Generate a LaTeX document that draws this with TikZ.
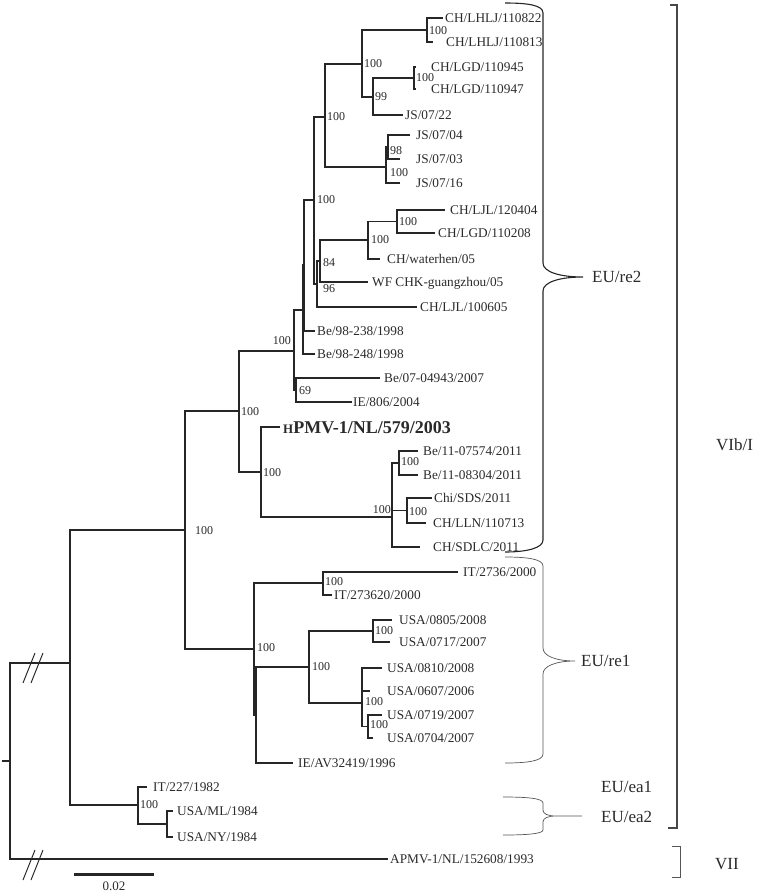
\documentclass[tikz,border=0pt]{standalone}
\usepackage{fontspec}
\setmainfont{Liberation Serif}
\definecolor{ln}{HTML}{262626}
\definecolor{tx}{HTML}{2A2A2A}
\definecolor{gl}{HTML}{555555}
\tikzset{
  br/.style={draw=ln, line width=1.2pt},
  lf/.style={anchor=west, inner sep=0pt, text height=8.8pt, text depth=0pt, font=\fontsize{13.3}{13.3}\selectfont, text=tx},
  bsr/.style={anchor=west, inner sep=0pt, text height=7.9pt, text depth=0pt, font=\fontsize{12}{12}\selectfont, text=tx},
  bsl/.style={bsr, anchor=east},
  cl/.style={anchor=west, inner sep=0pt, text height=11.3pt, text depth=0pt, font=\fontsize{17}{17}\selectfont, text=tx},
  bracemain/.style={draw=ln, line width=1.1pt},
  bracethin/.style={draw=gl, line width=0.7pt},
}
\newcommand\leaf[5]{\coordinate (#1) at (#2,#3); \node[lf] (#1-l) at (#4,#3) {#5};}
\begin{document}
\begin{tikzpicture}[x=1pt,y=-1pt]
\useasboundingbox (0,0) rectangle (758,894);

% leaves
\leaf{t1}{443}{18}{445}{CH/LHLJ/110822}
\leaf{t2}{433}{42}{446}{CH/LHLJ/110813}
\leaf{t3}{416}{67}{431}{CH/LGD/110945}
\leaf{t4}{416}{89}{431}{CH/LGD/110947}
\leaf{t5}{403}{115}{405}{JS/07/22}
\leaf{t6}{410}{135}{416}{JS/07/04}
\leaf{t7}{400}{159}{416}{JS/07/03}
\leaf{t8}{400}{183}{416}{JS/07/16}
\leaf{t9}{445}{210}{450}{CH/LJL/120404}
\leaf{t10}{435}{233}{438}{CH/LGD/110208}
\leaf{t11}{380}{259}{387}{CH/waterhen/05}
\leaf{t12}{368}{282}{372}{WF CHK-guangzhou/05}
\leaf{t13}{417}{307}{420}{CH/LJL/100605}
\leaf{t14}{315}{331}{317}{Be/98-238/1998}
\leaf{t15}{315}{354}{317}{Be/98-248/1998}
\leaf{t16}{380}{378}{384}{Be/07-04943/2007}
\leaf{t17}{352}{402}{353}{IE/806/2004}
\coordinate (t18) at (280,427);
\node[anchor=west, inner sep=0pt, text height=12.2pt, text depth=0pt, font=\fontsize{18}{18}\selectfont\bfseries, text=tx] (t18-l) at (283,427) {{\fontsize{13}{13}\selectfont H}PMV-1/NL/579/2003};
\leaf{t19}{418}{451}{423}{Be/11-07574/2011}
\leaf{t20}{418}{475}{423}{Be/11-08304/2011}
\leaf{t21}{432}{498}{434}{Chi/SDS/2011}
\leaf{t22}{426}{523}{433}{CH/LLN/110713}
\leaf{t23}{420}{547}{433}{CH/SDLC/2011}
\leaf{t24}{458}{572}{463}{IT/2736/2000}
\leaf{t25}{332}{595}{334}{IT/273620/2000}
\leaf{t26}{392}{620}{399}{USA/0805/2008}
\leaf{t27}{390}{642}{399}{USA/0717/2007}
\leaf{t28}{382}{668}{387}{USA/0810/2008}
\leaf{t29}{370}{691}{387}{USA/0607/2006}
\leaf{t30}{382}{715}{387}{USA/0719/2007}
\leaf{t31}{373}{738}{387}{USA/0704/2007}
\leaf{t32}{293}{763}{298}{IE/AV32419/1996}
\leaf{t33}{147}{787}{153}{IT/227/1982}
\leaf{t34}{173}{811}{177}{USA/ML/1984}
\leaf{t35}{173}{837}{177}{USA/NY/1984}
\leaf{t36}{388}{859}{390}{APMV-1/NL/152608/1993}

% internal nodes
\coordinate (stub) at (2,761);
\coordinate (root) at (10,761);
\coordinate (n70) at (70,663);
\coordinate (n185) at (185,530);
\coordinate (n239) at (239,411);
\coordinate (n294) at (294,351);
\coordinate (nX) at (303,310);
\coordinate (nX2) at (304,265);
\coordinate (n314) at (314,200);
\coordinate (n325) at (325,117);
\coordinate (n362) at (362,64);
\coordinate (nLHLJ) at (427,30);
\coordinate (n99) at (373,97);
\coordinate (nLGD) at (414,78);
\coordinate (nJS) at (386,167);
\coordinate (nB) at (388,147);
\coordinate (n96) at (317,284);
\coordinate (n84) at (320,261);
\coordinate (n100c) at (368,240);
\coordinate (n397) at (397,221.5);
\coordinate (n69) at (296,390);
\coordinate (n261) at (261,472);
\coordinate (nP) at (392,517);
\coordinate (nQ) at (392,487);
\coordinate (nBe) at (399,463);
\coordinate (nChi) at (407,510.5);
\coordinate (nR) at (254,649);
\coordinate (nS) at (256,715);
\coordinate (nIT) at (323,583);
\coordinate (nUSA) at (309,667);
\coordinate (nU1) at (373,631);
\coordinate (nU2) at (362,703);
\coordinate (nU3) at (362,680);
\coordinate (nU4) at (368,726.5);
\coordinate (n138) at (138,805);
\coordinate (nNY) at (167,824);

\draw[br] (stub) -- (root);
\foreach \p/\c in {root/n70, root/t36, n70/n185, n70/n138, n185/n239, n185/nR,
  n239/n294, n239/n261, n294/nX, n294/n69, nX/nX2, nX/t15, nX2/n314, nX2/t14,
  n314/n325, n314/n96, n325/n362, n325/nJS, n362/nLHLJ, n362/n99, nLHLJ/t1, nLHLJ/t2,
  n99/nLGD, n99/t5, nLGD/t3, nLGD/t4, nJS/nB, nJS/t8, nB/t6, nB/t7,
  n96/n84, n96/t13, n84/n100c, n84/t12, n100c/n397, n100c/t11, n397/t9, n397/t10,
  n69/t16, n69/t17, n261/t18, n261/nP, nP/nQ, nP/t23, nQ/nBe, nQ/nChi,
  nBe/t19, nBe/t20, nChi/t21, nChi/t22, nR/nIT, nR/nS, nS/nUSA, nS/t32,
  nIT/t24, nIT/t25, nUSA/nU1, nUSA/nU2, nU1/t26, nU1/t27, nU2/nU3, nU2/nU4,
  nU3/t28, nU3/t29, nU4/t30, nU4/t31, n138/t33, n138/nNY, nNY/t34, nNY/t35}
  \draw[br] (\p) |- (\c);

% bootstrap values
\foreach \x/\y/\t/\s [count=\i] in {429/31/100/bsr, 364/64/100/bsr, 375/97/99/bsr, 416/78/100/bsr,
  327/117/100/bsr, 390/151/98/bsr, 390/173/100/bsr, 317/200/100/bsr, 399/222/100/bsr,
  371/240/100/bsr, 323/263/84/bsr, 323/289/96/bsr, 291/341/100/bsl, 299/391/69/bsr,
  241/412/100/bsr, 263/473/100/bsr, 401/462/100/bsr, 391/510/100/bsl, 409/512/100/bsr,
  195/531/100/bsr, 325/582/100/bsr, 257/648/100/bsr, 312/667/100/bsr, 375/631/100/bsr,
  365/702/100/bsr, 370/725/100/bsr, 140/805/100/bsr}
  \node[\s] (bs\i) at (\x,\y) {\t};

% break marks
\coordinate (k1a) at (23,683); \coordinate (k1b) at (35,653);
\coordinate (k2a) at (31,683); \coordinate (k2b) at (43,653);
\coordinate (k3a) at (23,880); \coordinate (k3b) at (35,850);
\coordinate (k4a) at (31,880); \coordinate (k4b) at (43,850);
\draw[draw=ln, line width=1pt] (k1a) -- (k1b) (k2a) -- (k2b) (k3a) -- (k3b) (k4a) -- (k4b);

% scale bar
\coordinate (sb1) at (74,874); \coordinate (sb2) at (154,874);
\draw[draw=ln, line width=3pt] (sb1) -- (sb2);
\node[bsr, anchor=center, font=\fontsize{13}{13}\selectfont] (sbl) at (114,887) {0.02};

% clade braces
\draw[bracemain] (505,3) .. controls (527,3) and (543,5) .. (543,13) -- (543,263)
  .. controls (543,272) and (560,277) .. (583,277)
  .. controls (560,277) and (543,282) .. (543,291) -- (543,540)
  .. controls (543,548) and (527,552) .. (505,552);
\draw[bracethin] (505,557) .. controls (527,557) and (543,559) .. (543,566) -- (543,648)
  .. controls (543,656) and (556,661) .. (575,661)
  .. controls (556,661) and (543,666) .. (543,674) -- (543,754)
  .. controls (543,761) and (527,763) .. (505,763);
\draw[bracethin] (503,797) .. controls (525,797) and (543,798) .. (543,803) -- (543,810)
  .. controls (543,814) and (548,816) .. (556,816) -- (582,816)
  (556,816) .. controls (548,816) and (543,818) .. (543,822) -- (543,830)
  .. controls (543,834) and (525,835) .. (503,835);
\draw[draw=ln!85, line width=1.4pt] (670,5) -- (677,5) -- (677,828) -- (668,828);
\draw[bracethin] (672,846) -- (680,846) -- (680,877) -- (672,877);

\node[cl] (re2) at (592,277) {EU/re2};
\node[cl] (re1) at (581,661) {EU/re1};
\node[cl] (ea1) at (601,787) {EU/ea1};
\node[cl] (ea2) at (601,817) {EU/ea2};
\node[cl] (vib) at (716,445) {VIb/I};
\node[cl] (vii) at (715,864) {VII};
\end{tikzpicture}
\end{document}
